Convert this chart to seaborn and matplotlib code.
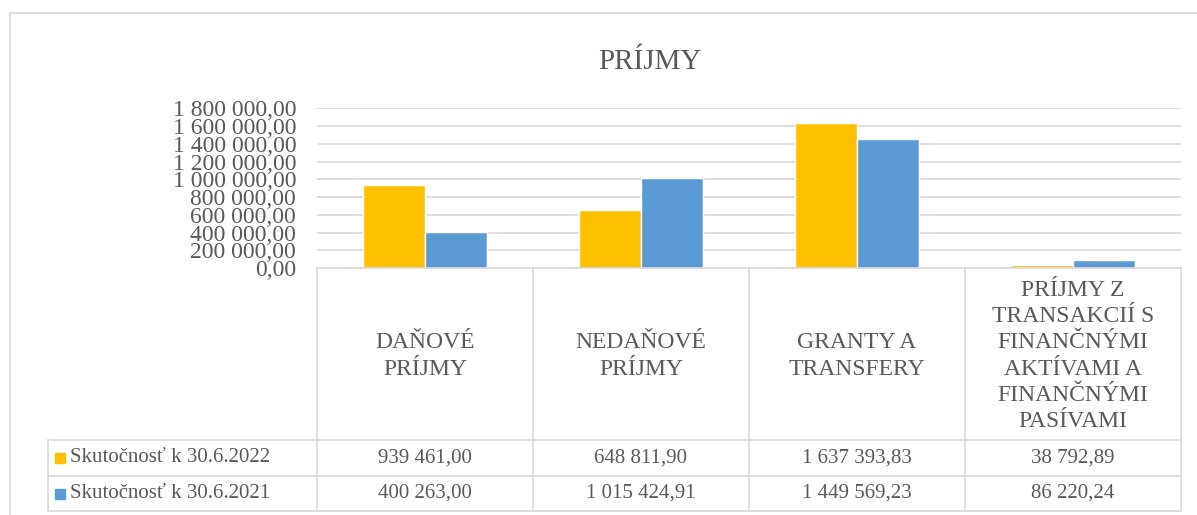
import numpy as np
import pandas as pd
import matplotlib
matplotlib.use('Agg')
import matplotlib.pyplot as plt
import seaborn as sns
from matplotlib.ticker import FuncFormatter, MultipleLocator
from matplotlib.patches import Rectangle

# -----------------------------
# Dáta
# -----------------------------
kategorie = ['DAŇOVÉ\nPRÍJMY', 'NEDAŇOVÉ\nPRÍJMY', 'GRANTY A\nTRANSFERY',
             'PRÍJMY Z\nTRANSAKCIÍ S\nFINANČNÝMI\nAKTÍVAMI A\nFINANČNÝMI\nPASÍVAMI']
serie = ['Skutočnosť k 30.6.2022', 'Skutočnosť k 30.6.2021']
hodnoty_2022 = [939461.00, 648811.90, 1637393.83, 38792.89]
hodnoty_2021 = [400263.00, 1015424.91, 1449569.23, 86220.24]
farby = ['#FFC000', '#5B9BD5']
titulok = 'PRÍJMY'

df = pd.DataFrame({
    'kategoria': kategorie * 2,
    'seria': [serie[0]] * 4 + [serie[1]] * 4,
    'hodnota': hodnoty_2022 + hodnoty_2021,
})


def sk_format(v, pos=None):
    return f"{v:,.2f}".replace(',', ' ').replace('.', ',')


sns.set_theme(style='white')
plt.rcParams['font.family'] = ['Liberation Serif', 'DejaVu Serif']
sivy = '#595959'
ciara = '#D9D9D9'
fs = 15      # tabuľka
fs_os = 17   # popisy osí a kategórií

W, H = 1197, 515
fig = plt.figure(figsize=(W / 100, H / 100), dpi=100)

# oblast grafu (pixely)
x0, x1 = 317, 1181
y_top, y_base = 108.3, 268
ax = fig.add_axes([x0 / W, 1 - y_base / H, (x1 - x0) / W, (y_base - y_top) / H])
sns.barplot(data=df, x='kategoria', y='hodnota', hue='seria', palette=farby,
            width=0.57, saturation=1, legend=False, ax=ax)
ax.set_xlim(-0.5, len(kategorie) - 0.5)
ax.set_ylim(0, 1800000)
ax.yaxis.set_major_locator(MultipleLocator(200000))
ax.yaxis.set_major_formatter(FuncFormatter(sk_format))
ax.grid(axis='y', color=ciara, lw=1.2)
ax.set_axisbelow(True)
for s in ax.spines.values():
    s.set_visible(False)
ax.set_xticks([])
ax.set_xlabel('')
ax.set_ylabel('')
ax.tick_params(axis='y', length=0, pad=15, labelsize=fs_os, labelcolor=sivy)

# -----------------------------
# Tabuľka s údajmi (pixelové súradnice)
# -----------------------------
tab = fig.add_axes([0, 0, 1, 1])
tab.set_xlim(0, W)
tab.set_ylim(H, 0)
tab.axis('off')
tab.patch.set_visible(False)

hrany = np.linspace(x0, x1, len(kategorie) + 1)
stredy = (hrany[:-1] + hrany[1:]) / 2
y_hlav, y_r1, y_r2 = 440, 476, 511
x_leg = 48
lw = 1.2

# vonkajší rám
tab.plot([10, 10], [13, H], color=ciara, lw=lw)
tab.plot([10, W], [13, 13], color=ciara, lw=lw)

tab.plot([x0, x1], [y_base, y_base], color=ciara, lw=lw)
for yy in (y_hlav, y_r1, y_r2):
    tab.plot([x_leg, x1], [yy, yy], color=ciara, lw=lw)
for xx in hrany:
    tab.plot([xx, xx], [y_base, y_r2], color=ciara, lw=lw)
tab.plot([x_leg, x_leg], [y_hlav, y_r2], color=ciara, lw=lw)

for xc, kat in zip(stredy, kategorie):
    tab.text(xc, 356, kat, ha='center', va='center', fontsize=fs_os,
             color=sivy, linespacing=1.32)

riadky = [(y_hlav + y_r1) / 2, (y_r1 + y_r2) / 2]
for yc, hodnoty, nazov, farba in zip(riadky, [hodnoty_2022, hodnoty_2021], serie, farby):
    tab.add_patch(Rectangle((55, yc - 5), 10, 10, color=farba))
    tab.text(70, yc, nazov, ha='left', va='center', fontsize=fs, color=sivy)
    for xc, v in zip(stredy, hodnoty):
        tab.text(xc, yc, sk_format(v), ha='center', va='center', fontsize=fs, color=sivy)

tab.text(650, 62, titulok, ha='center', va='center', fontsize=21, color=sivy)

plt.savefig('out.png', dpi=100)
